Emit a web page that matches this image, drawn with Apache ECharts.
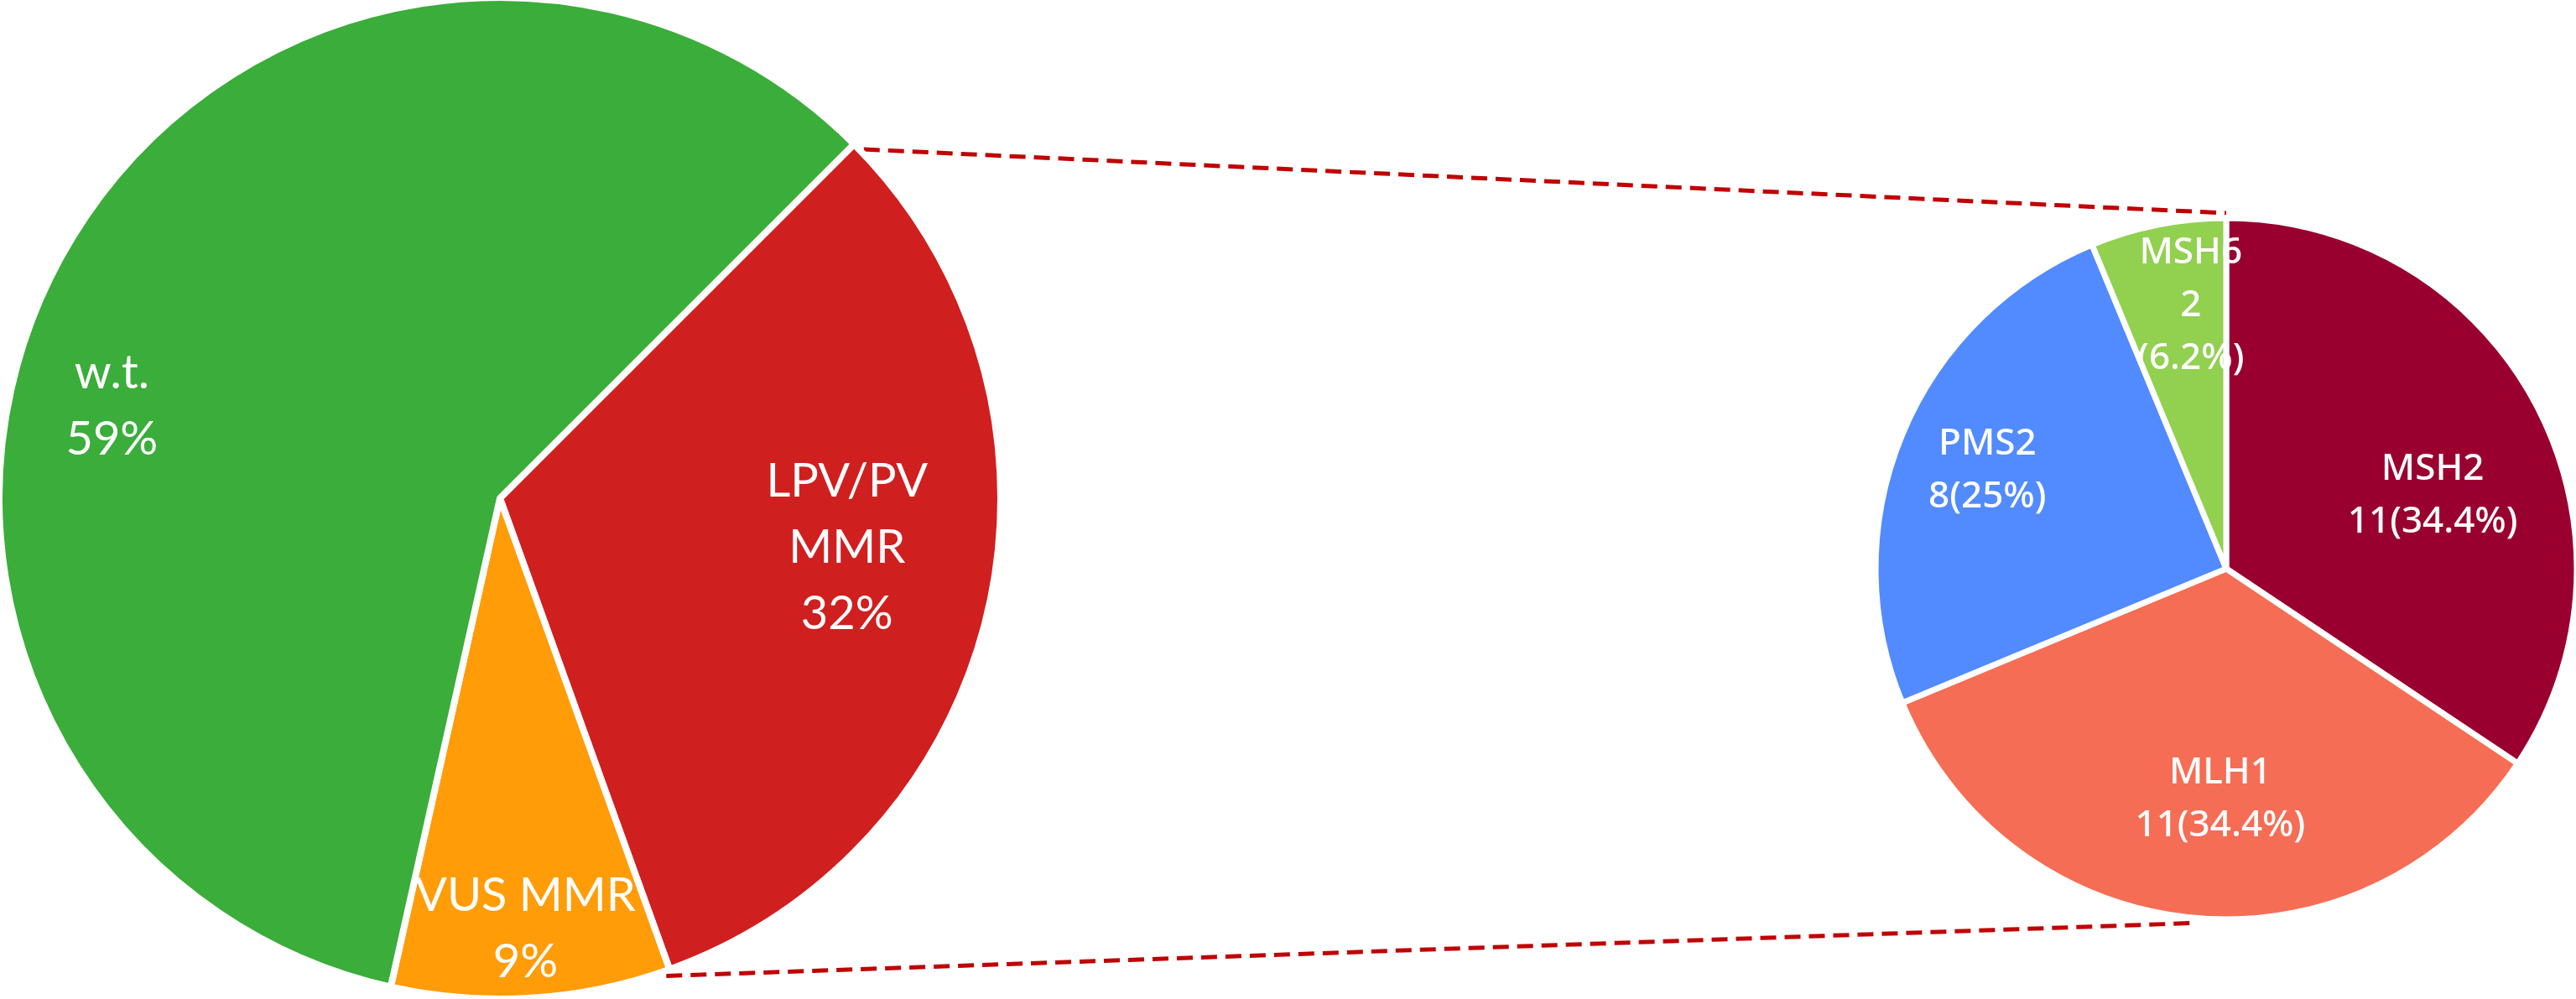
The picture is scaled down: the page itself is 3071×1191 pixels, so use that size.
<!DOCTYPE html>
<html>
<head>
<meta charset="utf-8">
<script src="https://cdn.jsdelivr.net/npm/echarts@6/dist/echarts.min.js"></script>
<style>
html,body{margin:0;padding:0;background:#fff;}
#chart{width:3071px;height:1191px;}
</style>
</head>
<body>
<div id="chart"></div>
<script>
// ---- data ----
const leftCategories = ['LPV/PV MMR', 'VUS MMR', 'w.t.'];
const leftLabelNames = ['LPV/PV\nMMR', 'VUS MMR', 'w.t.'];
const leftValues = [32, 9, 59];
const rightCategories = ['MSH2', 'MLH1', 'PMS2', 'MSH6'];
const rightCounts = [11, 11, 8, 2];
const rightPercents = ['34.4%', '34.4%', '25%', '6.2%'];

// ---- styles / layout ----
const leftColors = ['#D01F1F', '#FF9C08', '#3AAD3A'];
const rightColors = ['#990030', '#F56D55', '#528BFF', '#92D050'];
const rightLabelSplit = [false, false, false, true];
const L = { cx: 596, cy: 594, r: 597, start: 45 };
const R = { cx: 2654, cy: 678, r: 418, start: 90 };
// label anchor offsets, in units of radius
const leftLabelAt = [[0.693, 0.098], [0.051, 0.860], [-0.775, -0.184]];
const rightLabelAt = [[0.589, -0.208], [-0.017, 0.657], [-0.681, -0.280], [-0.101, -0.751]];

const chart = echarts.init(document.getElementById('chart'), null, {renderer: 'canvas'});

function polar(g, clockDeg, rr) {
  const a = clockDeg * Math.PI / 180;
  return [g.cx + rr * Math.sin(a), g.cy - rr * Math.cos(a)];
}
const leftTotal = leftValues.reduce((a, b) => a + b, 0);
const redStartClock = 90 - L.start;
const redEndClock = redStartClock + 360 * leftValues[0] / leftTotal;
const p1 = polar(L, redStartClock + 1.2, L.r + 4);
const p2 = polar(R, 0, R.r + 6);
const p3 = polar(L, redEndClock + 0.6, L.r + 6);
const p4 = polar(R, 185, R.r + 6);

const dashStyle = { stroke: '#C00000', lineWidth: 5, lineDash: [19, 10] };

chart.setOption({
  animation: false,
  backgroundColor: '#ffffff',
  graphic: [
    { type: 'line', shape: { x1: p1[0], y1: p1[1], x2: p2[0], y2: p2[1] }, style: dashStyle, z: 0 },
    { type: 'line', shape: { x1: p3[0], y1: p3[1], x2: p4[0], y2: p4[1] }, style: dashStyle, z: 0 }
  ],
  series: [
    {
      type: 'pie',
      center: [L.cx, L.cy],
      radius: [0, L.r],
      startAngle: L.start,
      clockwise: true,
      avoidLabelOverlap: false,
      itemStyle: { borderColor: '#ffffff', borderWidth: 8 },
      emphasis: { disabled: true },
      label: {
        show: true,
        position: 'inside',
        color: '#ffffff',
        fontFamily: 'Lato, "Open Sans", sans-serif',
        fontSize: 56,
        lineHeight: 79,
        align: 'center',
        verticalAlign: 'middle',
        formatter: p => leftLabelNames[p.dataIndex] + '\n' + p.value + '%'
      },
      labelLine: { show: false },
      labelLayout: params => {
        const o = leftLabelAt[params.dataIndex];
        return { x: L.cx + o[0] * L.r, y: L.cy + o[1] * L.r, align: 'center', verticalAlign: 'middle' };
      },
      data: leftCategories.map((n, i) => ({ name: n, value: leftValues[i], itemStyle: { color: leftColors[i] } }))
    },
    {
      type: 'pie',
      center: [R.cx, R.cy],
      radius: [0, R.r],
      startAngle: R.start,
      clockwise: true,
      avoidLabelOverlap: false,
      itemStyle: { borderColor: '#ffffff', borderWidth: 7 },
      emphasis: { disabled: true },
      label: {
        show: true,
        position: 'inside',
        color: '#ffffff',
        fontFamily: '"Noto Sans", sans-serif',
        fontWeight: 500,
        fontSize: 44,
        lineHeight: 63,
        align: 'center',
        verticalAlign: 'middle',
        formatter: p => {
          const i = p.dataIndex;
          return rightCategories[i] + '\n' + rightCounts[i] + (rightLabelSplit[i] ? '\n' : '') + '(' + rightPercents[i] + ')';
        }
      },
      labelLine: { show: false },
      labelLayout: params => {
        const o = rightLabelAt[params.dataIndex];
        return { x: R.cx + o[0] * R.r, y: R.cy + o[1] * R.r, align: 'center', verticalAlign: 'middle' };
      },
      data: rightCategories.map((n, i) => ({ name: n, value: rightCounts[i], itemStyle: { color: rightColors[i] } }))
    }
  ]
});
</script>
</body>
</html>
